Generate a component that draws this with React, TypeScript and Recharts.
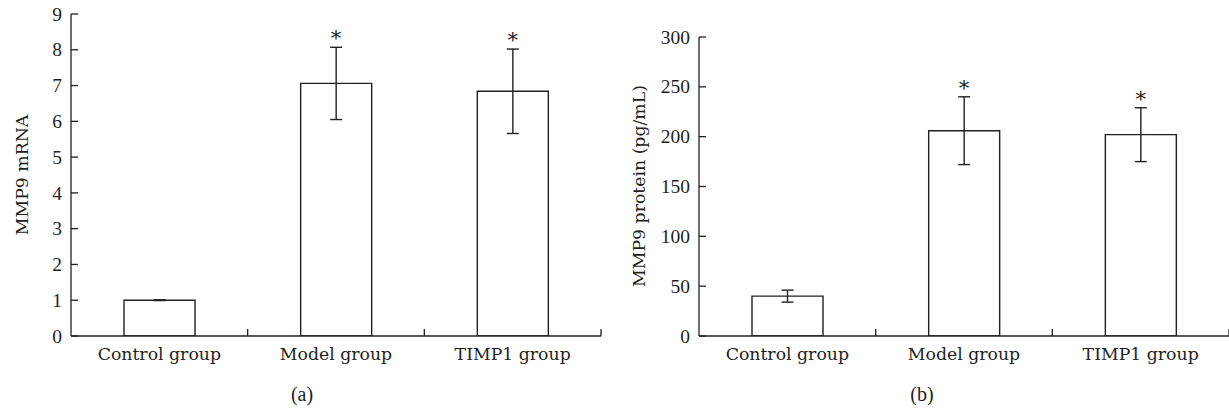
import React from 'react';
import { BarChart, Bar, XAxis, YAxis, ErrorBar, ReferenceDot } from 'recharts';

const categories = ['Control group', 'Model group', 'TIMP1 group'];
const mrnaMeans = [1.0, 7.06, 6.84];
const mrnaErrors = [0.01, 1.01, 1.18];
const proteinMeans = [40, 206, 202];
const proteinErrors = [6, 34, 27];
const significant = [false, true, true];
const mrnaTicks = [0, 1, 2, 3, 4, 5, 6, 7, 8, 9];
const proteinTicks = [0, 50, 100, 150, 200, 250, 300];

const INK = '#231f20';
const FONT = '"DejaVu Serif", serif';
const NUMFONT = '"Liberation Serif", serif';
const FS = 17.3;
const NFS = 19.5;

const mrnaData = categories.map((c, i) => ({ name: c, mean: mrnaMeans[i], err: mrnaErrors[i] }));
const proteinData = categories.map((c, i) => ({ name: c, mean: proteinMeans[i], err: proteinErrors[i] }));

const YTick = (props: any) => {
  const { x, y, payload } = props;
  return (
    <g>
      <line x1={x} x2={x + 7} y1={y} y2={y} stroke={INK} strokeWidth={1.3} />
      <text x={x - 9} y={y} dy="0.34em" textAnchor="end" fill={INK} fontFamily={NUMFONT} fontSize={NFS}>
        {payload.value}
      </text>
    </g>
  );
};

const XTick = (props: any) => {
  const { x, y, payload } = props;
  const off = payload.offset ?? 0;
  return (
    <g>
      <line x1={x + off} x2={x + off} y1={y} y2={y - 7} stroke={INK} strokeWidth={1.3} />
      <text x={x} y={y + 24} textAnchor="middle" fill={INK} fontFamily={FONT} fontSize={FS}>
        {payload.value}
      </text>
    </g>
  );
};

function Panel(props: {
  data: any[];
  width: number;
  top: number;
  right: number;
  yWidth: number;
  domain: [number, number];
  ticks: number[];
}) {
  const { data, width, top, right, yWidth, domain, ticks } = props;
  return (
    <BarChart width={width} height={410} data={data} margin={{ top, right, left: 0, bottom: 0 }} barCategoryGap="30%">
      <XAxis
        dataKey="name"
        height={74}
        tick={<XTick />}
        tickLine={false}
        tickSize={0}
        tickMargin={0}
        axisLine={{ stroke: INK, strokeWidth: 1.3 }}
        interval={0}
      />
      <YAxis
        width={yWidth}
        domain={domain}
        ticks={ticks}
        type="number"
        allowDataOverflow
        tick={<YTick />}
        tickLine={false}
        tickSize={0}
        tickMargin={0}
        axisLine={{ stroke: INK, strokeWidth: 1.3 }}
        interval={0}
      />
      <Bar dataKey="mean" fill="#ffffff" stroke={INK} strokeWidth={1.4} isAnimationActive={false}>
        <ErrorBar dataKey="err" width={6} stroke={INK} strokeWidth={1.4} direction="y" />
      </Bar>
      {data.map((d, i) =>
        significant[i] ? (
          <ReferenceDot
            key={d.name}
            x={d.name}
            y={d.mean + d.err}
            r={0}
            fill="none"
            stroke="none"
            label={{ value: '*', position: 'top', offset: 2, fontSize: 21, fill: INK, fontFamily: FONT }}
          />
        ) : null
      )}
    </BarChart>
  );
}

export default function App() {
  return (
    <div style={{ position: 'absolute', left: 0, top: 0, width: 1229, height: 410, overflow: 'hidden', background: '#fff' }}>
      <div style={{ position: 'absolute', left: 0, top: 0 }}>
        <Panel data={mrnaData} width={610} top={14} right={9} yWidth={71} domain={[0, 9]} ticks={mrnaTicks} />
      </div>
      <div style={{ position: 'absolute', left: 610, top: 0 }}>
        <Panel data={proteinData} width={619} top={37} right={0} yWidth={89} domain={[0, 300]} ticks={proteinTicks} />
      </div>
      <svg width={1229} height={410} style={{ position: 'absolute', left: 0, top: 0, pointerEvents: 'none' }}>
        <text transform="translate(28,175) rotate(-90)" textAnchor="middle" fill={INK} fontFamily={FONT} fontSize={FS}>
          MMP9 mRNA
        </text>
        <text transform="translate(645,186) rotate(-90)" textAnchor="middle" fill={INK} fontFamily={FONT} fontSize={FS}>
          MMP9 protein (pg/mL)
        </text>
        <text x={302} y={401} textAnchor="middle" fill={INK} fontFamily={NUMFONT} fontSize={20}>
          (a)
        </text>
        <text x={922} y={401} textAnchor="middle" fill={INK} fontFamily={NUMFONT} fontSize={20}>
          (b)
        </text>
      </svg>
    </div>
  );
}
